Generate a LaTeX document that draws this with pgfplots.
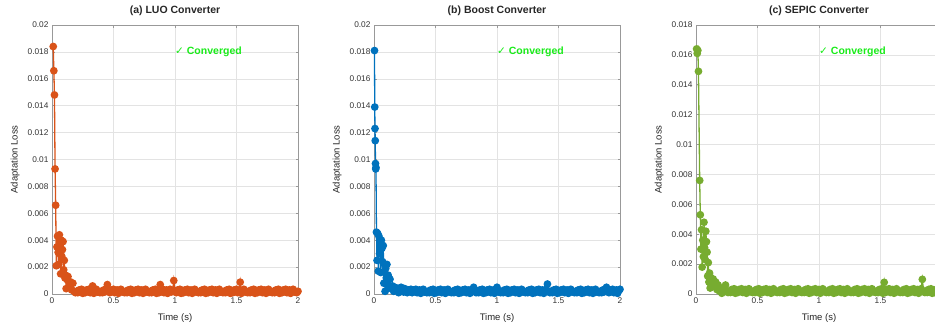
\documentclass[border=0pt]{standalone}
\usepackage{pgfplots}
\usepackage{pgfplotstable}
\pgfplotsset{compat=1.18}
\usepackage{fontspec}
\setmainfont{Liberation Sans}
\newfontfamily\dejavu{DejaVu Sans}
\definecolor{mOrange}{rgb}{0.85,0.325,0.098}
\definecolor{mBlue}{rgb}{0,0.447,0.741}
\definecolor{mGreen}{rgb}{0.466,0.674,0.188}
\definecolor{cvGreen}{rgb}{0.1,0.92,0.1}
\definecolor{axgray}{gray}{0.6}

% LUO converter
\pgfplotstableread[row sep=\\]{
t loss\\
0.010 0.0184\\ 0.015 0.0166\\ 0.020 0.0148\\ 0.025 0.0093\\ 0.030 0.0066\\
0.035 0.0021\\ 0.040 0.0035\\ 0.045 0.0043\\ 0.050 0.0031\\ 0.055 0.0022\\
0.060 0.0044\\ 0.065 0.0036\\ 0.070 0.0015\\ 0.075 0.0040\\ 0.080 0.0028\\
0.085 0.0033\\ 0.090 0.0039\\ 0.095 0.0018\\ 0.100 0.0025\\ 0.105 0.0012\\
0.110 0.0014\\ 0.115 0.0004\\ 0.120 0.0011\\ 0.130 0.0013\\ 0.140 0.0006\\
0.150 0.0009\\ 0.160 0.0003\\ 0.170 0.0008\\ 0.180 0.0002\\ 0.190 0.0001\\
0.20 0.0002\\ 0.21 0.0001\\ 0.22 0.0003\\ 0.23 0.00015\\ 0.24 0.00035\\ 0.25 0.00005\\ 0.26 0.00025\\ 0.27 0.0001\\ 0.28 0.0003\\ 0.29 0.0002\\
0.30 0.00035\\ 0.31 0.0001\\ 0.32 0.00015\\ 0.33 0.0006\\ 0.34 0.00005\\ 0.35 0.00025\\ 0.36 0.00035\\ 0.37 0.00015\\ 0.38 0.0002\\ 0.39 0.0001\\
0.40 0.0002\\ 0.41 0.0001\\ 0.42 0.0003\\ 0.43 0.00015\\ 0.44 0.00035\\ 0.45 0.0007\\ 0.46 0.00025\\ 0.47 0.0001\\ 0.48 0.0003\\ 0.49 0.0002\\
0.50 0.00035\\ 0.51 0.0001\\ 0.52 0.00015\\ 0.53 0.0003\\ 0.54 0.00005\\ 0.55 0.00025\\ 0.56 0.00035\\ 0.57 0.00015\\ 0.58 0.0002\\ 0.59 0.0001\\
0.60 0.0002\\ 0.61 0.0001\\ 0.62 0.0003\\ 0.63 0.00015\\ 0.64 0.00035\\ 0.65 0.00005\\ 0.66 0.00025\\ 0.67 0.0001\\ 0.68 0.0003\\ 0.69 0.0002\\
0.70 0.00035\\ 0.71 0.0001\\ 0.72 0.00015\\ 0.73 0.0003\\ 0.74 0.00005\\ 0.75 0.00025\\ 0.76 0.00035\\ 0.77 0.00015\\ 0.78 0.0002\\ 0.79 0.0001\\
0.80 0.0002\\ 0.81 0.0001\\ 0.82 0.0003\\ 0.83 0.00015\\ 0.84 0.00035\\ 0.85 0.00005\\ 0.86 0.00025\\ 0.87 0.0001\\ 0.88 0.0007\\ 0.89 0.0002\\
0.90 0.00035\\ 0.91 0.0001\\ 0.92 0.00015\\ 0.93 0.0003\\ 0.94 0.00005\\ 0.95 0.00025\\ 0.96 0.00035\\ 0.97 0.00015\\ 0.98 0.0002\\ 0.99 0.0010\\
1.00 0.0002\\ 1.01 0.0001\\ 1.02 0.0003\\ 1.03 0.00015\\ 1.04 0.00035\\ 1.05 0.00005\\ 1.06 0.00025\\ 1.07 0.0001\\ 1.08 0.0003\\ 1.09 0.0002\\
1.10 0.00035\\ 1.11 0.0001\\ 1.12 0.00015\\ 1.13 0.0003\\ 1.14 0.00005\\ 1.15 0.00025\\ 1.16 0.00035\\ 1.17 0.00015\\ 1.18 0.0002\\ 1.19 0.0001\\
1.20 0.0002\\ 1.21 0.0001\\ 1.22 0.0003\\ 1.23 0.00015\\ 1.24 0.00035\\ 1.25 0.00005\\ 1.26 0.00025\\ 1.27 0.0001\\ 1.28 0.0003\\ 1.29 0.0002\\
1.30 0.00035\\ 1.31 0.0001\\ 1.32 0.00015\\ 1.33 0.0003\\ 1.34 0.00005\\ 1.35 0.00025\\ 1.36 0.00035\\ 1.37 0.00015\\ 1.38 0.0002\\ 1.39 0.0001\\
1.40 0.0002\\ 1.41 0.0001\\ 1.42 0.0003\\ 1.43 0.00015\\ 1.44 0.00035\\ 1.45 0.00005\\ 1.46 0.00025\\ 1.47 0.0001\\ 1.48 0.0003\\ 1.49 0.0002\\
1.50 0.00035\\ 1.51 0.0001\\ 1.52 0.00015\\ 1.53 0.00088\\ 1.54 0.00005\\ 1.55 0.00025\\ 1.56 0.00035\\ 1.57 0.00015\\ 1.58 0.0002\\ 1.59 0.0001\\
1.60 0.0002\\ 1.61 0.0001\\ 1.62 0.0003\\ 1.63 0.00015\\ 1.64 0.00035\\ 1.65 0.00005\\ 1.66 0.00025\\ 1.67 0.0001\\ 1.68 0.0003\\ 1.69 0.0002\\
1.70 0.00035\\ 1.71 0.0001\\ 1.72 0.00015\\ 1.73 0.0003\\ 1.74 0.00005\\ 1.75 0.00025\\ 1.76 0.00035\\ 1.77 0.00015\\ 1.78 0.0002\\ 1.79 0.0001\\
1.80 0.0002\\ 1.81 0.0001\\ 1.82 0.0003\\ 1.83 0.00015\\ 1.84 0.00035\\ 1.85 0.00005\\ 1.86 0.00025\\ 1.87 0.0001\\ 1.88 0.0003\\ 1.89 0.0002\\
1.90 0.00035\\ 1.91 0.0001\\ 1.92 0.00015\\ 1.93 0.0003\\ 1.94 0.00005\\ 1.95 0.00025\\ 1.96 0.00035\\ 1.97 0.00015\\ 1.98 0.0002\\ 1.99 0.0001\\
2.00 0.0002\\
}\luo

% Boost converter
\pgfplotstableread[row sep=\\]{
t loss\\
0.004 0.0181\\ 0.006 0.0139\\ 0.008 0.0123\\ 0.010 0.0114\\ 0.012 0.0097\\
0.014 0.0093\\ 0.016 0.0094\\ 0.020 0.0046\\ 0.025 0.0025\\ 0.030 0.0045\\
0.035 0.0017\\ 0.040 0.0043\\ 0.045 0.0030\\ 0.050 0.0038\\ 0.055 0.0016\\
0.060 0.0040\\ 0.065 0.0034\\ 0.070 0.0024\\ 0.075 0.0036\\ 0.080 0.0008\\
0.085 0.0022\\ 0.090 0.0002\\ 0.095 0.0019\\ 0.100 0.0012\\ 0.105 0.0022\\
0.110 0.0009\\ 0.115 0.0014\\ 0.120 0.0005\\ 0.130 0.0011\\ 0.140 0.0004\\
0.150 0.0006\\ 0.160 0.0002\\ 0.170 0.0005\\ 0.180 0.0003\\ 0.190 0.0004\\
0.20 0.0001\\ 0.21 0.0003\\ 0.22 0.0005\\ 0.23 0.00035\\ 0.24 0.00015\\ 0.25 0.0004\\ 0.26 0.00015\\ 0.27 0.0001\\ 0.28 0.0003\\ 0.29 0.0002\\
0.30 0.00035\\ 0.31 0.0001\\ 0.32 0.0003\\ 0.33 0.0002\\ 0.34 0.00035\\ 0.35 0.0001\\ 0.36 0.00015\\ 0.37 0.0003\\ 0.38 0.00005\\ 0.39 0.00025\\
0.40 0.00035\\ 0.41 0.00015\\ 0.42 0.0002\\ 0.43 0.0001\\ 0.44 0.0002\\ 0.45 0.0001\\ 0.46 0.0003\\ 0.47 0.00015\\ 0.48 0.00035\\ 0.49 0.00005\\
0.50 0.00025\\ 0.51 0.0001\\ 0.52 0.0003\\ 0.53 0.0002\\ 0.54 0.00035\\ 0.55 0.0001\\ 0.56 0.00015\\ 0.57 0.0003\\ 0.58 0.00005\\ 0.59 0.00025\\
0.60 0.00035\\ 0.61 0.00015\\ 0.62 0.0002\\ 0.63 0.0001\\ 0.64 0.0002\\ 0.65 0.0001\\ 0.66 0.0003\\ 0.67 0.00015\\ 0.68 0.00035\\ 0.69 0.00005\\
0.70 0.00025\\ 0.71 0.0001\\ 0.72 0.0003\\ 0.73 0.0002\\ 0.74 0.00035\\ 0.75 0.0001\\ 0.76 0.00015\\ 0.77 0.0003\\ 0.78 0.00005\\ 0.79 0.00025\\
0.80 0.00035\\ 0.81 0.0005\\ 0.82 0.0002\\ 0.83 0.0001\\ 0.84 0.0002\\ 0.85 0.0001\\ 0.86 0.0003\\ 0.87 0.00015\\ 0.88 0.00035\\ 0.89 0.00005\\
0.90 0.00025\\ 0.91 0.0001\\ 0.92 0.0003\\ 0.93 0.0002\\ 0.94 0.00035\\ 0.95 0.0001\\ 0.96 0.00015\\ 0.97 0.0003\\ 0.98 0.00005\\ 0.99 0.00025\\
1.00 0.0005\\ 1.01 0.00015\\ 1.02 0.0002\\ 1.03 0.0001\\ 1.04 0.0002\\ 1.05 0.0001\\ 1.06 0.0003\\ 1.07 0.00015\\ 1.08 0.00035\\ 1.09 0.00005\\
1.10 0.00025\\ 1.11 0.0001\\ 1.12 0.0003\\ 1.13 0.0002\\ 1.14 0.00035\\ 1.15 0.0001\\ 1.16 0.00015\\ 1.17 0.0003\\ 1.18 0.00005\\ 1.19 0.00025\\
1.20 0.00035\\ 1.21 0.00015\\ 1.22 0.0002\\ 1.23 0.0001\\ 1.24 0.0002\\ 1.25 0.0001\\ 1.26 0.0003\\ 1.27 0.00015\\ 1.28 0.00035\\ 1.29 0.00005\\
1.30 0.00025\\ 1.31 0.0001\\ 1.32 0.0003\\ 1.33 0.0002\\ 1.34 0.00035\\ 1.35 0.0001\\ 1.36 0.00015\\ 1.37 0.0003\\ 1.38 0.00005\\ 1.39 0.00025\\
1.40 0.00035\\ 1.41 0.00074\\ 1.42 0.0002\\ 1.43 0.0001\\ 1.44 0.0002\\ 1.45 0.0001\\ 1.46 0.0003\\ 1.47 0.00015\\ 1.48 0.00035\\ 1.49 0.00005\\
1.50 0.00025\\ 1.51 0.0001\\ 1.52 0.0003\\ 1.53 0.0002\\ 1.54 0.00035\\ 1.55 0.0001\\ 1.56 0.00015\\ 1.57 0.0003\\ 1.58 0.00005\\ 1.59 0.00025\\
1.60 0.00035\\ 1.61 0.00015\\ 1.62 0.0002\\ 1.63 0.0001\\ 1.64 0.0002\\ 1.65 0.0001\\ 1.66 0.0003\\ 1.67 0.00015\\ 1.68 0.00035\\ 1.69 0.00005\\
1.70 0.00025\\ 1.71 0.0001\\ 1.72 0.0003\\ 1.73 0.0002\\ 1.74 0.00035\\ 1.75 0.0001\\ 1.76 0.00015\\ 1.77 0.0003\\ 1.78 0.00005\\ 1.79 0.00025\\
1.80 0.00035\\ 1.81 0.00015\\ 1.82 0.0002\\ 1.83 0.0001\\ 1.84 0.0002\\ 1.85 0.0001\\ 1.86 0.0003\\ 1.87 0.00015\\ 1.88 0.00035\\ 1.89 0.0005\\
1.90 0.00025\\ 1.91 0.0001\\ 1.92 0.0003\\ 1.93 0.0002\\ 1.94 0.00035\\ 1.95 0.0001\\ 1.96 0.00015\\ 1.97 0.0003\\ 1.98 0.00005\\ 1.99 0.00025\\
2.00 0.00035\\
}\boost

% SEPIC converter
\pgfplotstableread[row sep=\\]{
t loss\\
0.005 0.0164\\ 0.010 0.0161\\ 0.015 0.0163\\ 0.020 0.0149\\ 0.030 0.0076\\
0.035 0.0053\\ 0.040 0.0030\\ 0.045 0.0043\\ 0.050 0.0018\\ 0.055 0.0036\\
0.060 0.0025\\ 0.065 0.0048\\ 0.070 0.0031\\ 0.075 0.0023\\ 0.080 0.0042\\
0.085 0.0035\\ 0.090 0.0028\\ 0.095 0.0012\\ 0.100 0.0021\\ 0.105 0.0008\\
0.110 0.0014\\ 0.115 0.0004\\ 0.120 0.0011\\ 0.130 0.0007\\ 0.140 0.0010\\
0.150 0.0005\\ 0.160 0.0008\\ 0.170 0.0003\\ 0.180 0.0006\\ 0.190 0.0002\\
0.20 0.0003\\ 0.21 0.00005\\ 0.22 0.00025\\ 0.23 0.00035\\ 0.24 0.0006\\ 0.25 0.0002\\ 0.26 0.0001\\ 0.27 0.0002\\ 0.28 0.0001\\ 0.29 0.0003\\
0.30 0.00015\\ 0.31 0.00035\\ 0.32 0.00005\\ 0.33 0.00025\\ 0.34 0.0001\\ 0.35 0.0003\\ 0.36 0.0002\\ 0.37 0.00035\\ 0.38 0.0001\\ 0.39 0.00015\\
0.40 0.0003\\ 0.41 0.00005\\ 0.42 0.00025\\ 0.43 0.00035\\ 0.44 0.00015\\ 0.45 0.0002\\ 0.46 0.0001\\ 0.47 0.0002\\ 0.48 0.0001\\ 0.49 0.0003\\
0.50 0.00015\\ 0.51 0.00035\\ 0.52 0.00005\\ 0.53 0.00025\\ 0.54 0.0001\\ 0.55 0.0003\\ 0.56 0.0002\\ 0.57 0.00035\\ 0.58 0.0001\\ 0.59 0.00015\\
0.60 0.0003\\ 0.61 0.00005\\ 0.62 0.00025\\ 0.63 0.00035\\ 0.64 0.00015\\ 0.65 0.0002\\ 0.66 0.0001\\ 0.67 0.0002\\ 0.68 0.0001\\ 0.69 0.0003\\
0.70 0.00015\\ 0.71 0.00035\\ 0.72 0.00005\\ 0.73 0.00025\\ 0.74 0.0001\\ 0.75 0.0003\\ 0.76 0.0002\\ 0.77 0.00035\\ 0.78 0.0001\\ 0.79 0.00015\\
0.80 0.0003\\ 0.81 0.00005\\ 0.82 0.00025\\ 0.83 0.00035\\ 0.84 0.00015\\ 0.85 0.0002\\ 0.86 0.0001\\ 0.87 0.0002\\ 0.88 0.0001\\ 0.89 0.0003\\
0.90 0.00015\\ 0.91 0.00035\\ 0.92 0.00005\\ 0.93 0.00025\\ 0.94 0.0001\\ 0.95 0.0003\\ 0.96 0.0002\\ 0.97 0.00035\\ 0.98 0.0001\\ 0.99 0.00015\\
1.00 0.0003\\ 1.01 0.00005\\ 1.02 0.00025\\ 1.03 0.00035\\ 1.04 0.00015\\ 1.05 0.0002\\ 1.06 0.0001\\ 1.07 0.0002\\ 1.08 0.0001\\ 1.09 0.0003\\
1.10 0.00015\\ 1.11 0.00035\\ 1.12 0.00005\\ 1.13 0.00025\\ 1.14 0.0001\\ 1.15 0.0003\\ 1.16 0.0002\\ 1.17 0.00035\\ 1.18 0.0001\\ 1.19 0.00015\\
1.20 0.0003\\ 1.21 0.00005\\ 1.22 0.00025\\ 1.23 0.00035\\ 1.24 0.00015\\ 1.25 0.0002\\ 1.26 0.0001\\ 1.27 0.0002\\ 1.28 0.0001\\ 1.29 0.0003\\
1.30 0.00015\\ 1.31 0.00035\\ 1.32 0.00005\\ 1.33 0.00025\\ 1.34 0.0001\\ 1.35 0.0003\\ 1.36 0.0002\\ 1.37 0.00035\\ 1.38 0.0001\\ 1.39 0.00015\\
1.40 0.0003\\ 1.41 0.00005\\ 1.42 0.00025\\ 1.43 0.00035\\ 1.44 0.00015\\ 1.45 0.0002\\ 1.46 0.0001\\ 1.47 0.0002\\ 1.48 0.0001\\ 1.49 0.0003\\
1.50 0.00015\\ 1.51 0.00035\\ 1.52 0.00005\\ 1.53 0.00078\\ 1.54 0.0001\\ 1.55 0.0003\\ 1.56 0.0002\\ 1.57 0.00035\\ 1.58 0.0001\\ 1.59 0.00015\\
1.60 0.0003\\ 1.61 0.00005\\ 1.62 0.00025\\ 1.63 0.00035\\ 1.64 0.00015\\ 1.65 0.0002\\ 1.66 0.0001\\ 1.67 0.0002\\ 1.68 0.0001\\ 1.69 0.0003\\
1.70 0.00015\\ 1.71 0.00035\\ 1.72 0.00005\\ 1.73 0.00025\\ 1.74 0.0001\\ 1.75 0.0003\\ 1.76 0.0002\\ 1.77 0.00035\\ 1.78 0.0001\\ 1.79 0.00015\\
1.80 0.0003\\ 1.81 0.00005\\ 1.82 0.00025\\ 1.83 0.00035\\ 1.84 0.00098\\ 1.85 0.0002\\ 1.86 0.0001\\ 1.87 0.0002\\ 1.88 0.0001\\ 1.89 0.0003\\
1.90 0.00015\\ 1.91 0.00035\\ 1.92 0.00005\\ 1.93 0.00025\\ 1.94 0.0001\\ 1.95 0.0003\\ 1.96 0.0002\\ 1.97 0.00035\\ 1.98 0.0001\\ 1.99 0.00015\\
2.00 0.0003\\
}\sepic

\pgfplotsset{
 panel/.style={
  scale only axis, width=246pt, height=269pt, anchor=south west,
  xmin=0, xmax=2, ymin=0, clip=false,
  xtick={0,0.5,1,1.5,2},
  grid=major, major grid style={gray!22, line width=0.5pt},
  axis line style={axgray, line width=0.6pt},
  tick style={axgray, line width=0.6pt}, tick align=inside, major tick length=2.5pt,
  ticklabel style={font=\fontsize{8.3}{9}\selectfont, text=black!80},
  /pgf/number format/assume math mode=true,
  scaled y ticks=false,
  yticklabel style={/pgf/number format/fixed, /pgf/number format/precision=3},
  xlabel={Time (s)}, ylabel={Adaptation Loss},
  label style={font=\fontsize{9.5}{11}\selectfont, text=black!85},
  xlabel style={at={(axis description cs:0.5,-0.090)}, anchor=center},
  ylabel style={at={(axis description cs:-0.150,0.5)}, anchor=center},
  title style={at={(axis description cs:0.5,1)}, anchor=base, yshift=6pt, font=\bfseries\fontsize{10.5}{12}\selectfont, text=black!85},
 },
 myseries/.style={mark=*, mark size=3.2pt, line width=1.3pt, color=#1, mark options={fill=#1, draw=#1}},
}
\tikzset{conv/.style={anchor=west, text=cvGreen, inner sep=0pt, font=\bfseries\fontsize{10.5}{12}\selectfont}}

\begin{document}
\begin{tikzpicture}[x=1pt,y=1pt]
\useasboundingbox (0,0) rectangle (935,327);
\begin{axis}[panel, at={(52pt,33pt)}, ymax=0.02, ytick={0,0.002,...,0.0201}, title={(a) LUO Converter}]
\addplot[myseries=mOrange] table[x=t, y=loss] {\luo};
\node[conv] at (axis cs:1,0.018) {{\dejavu\mdseries ✓} Converged};
\end{axis}
\begin{axis}[panel, at={(374pt,33pt)}, ymax=0.02, ytick={0,0.002,...,0.0201}, title={(b) Boost Converter}]
\addplot[myseries=mBlue] table[x=t, y=loss] {\boost};
\node[conv] at (axis cs:1,0.018) {{\dejavu\mdseries ✓} Converged};
\end{axis}
\begin{axis}[panel, at={(696pt,33pt)}, ymax=0.018, ytick={0,0.002,...,0.0181}, xtick={0,0.5,1,1.5}, title={(c) SEPIC Converter}]
\addplot[myseries=mGreen] table[x=t, y=loss] {\sepic};
\node[conv] at (axis cs:1,0.0162) {{\dejavu\mdseries ✓} Converged};
\end{axis}
\end{tikzpicture}
\end{document}
